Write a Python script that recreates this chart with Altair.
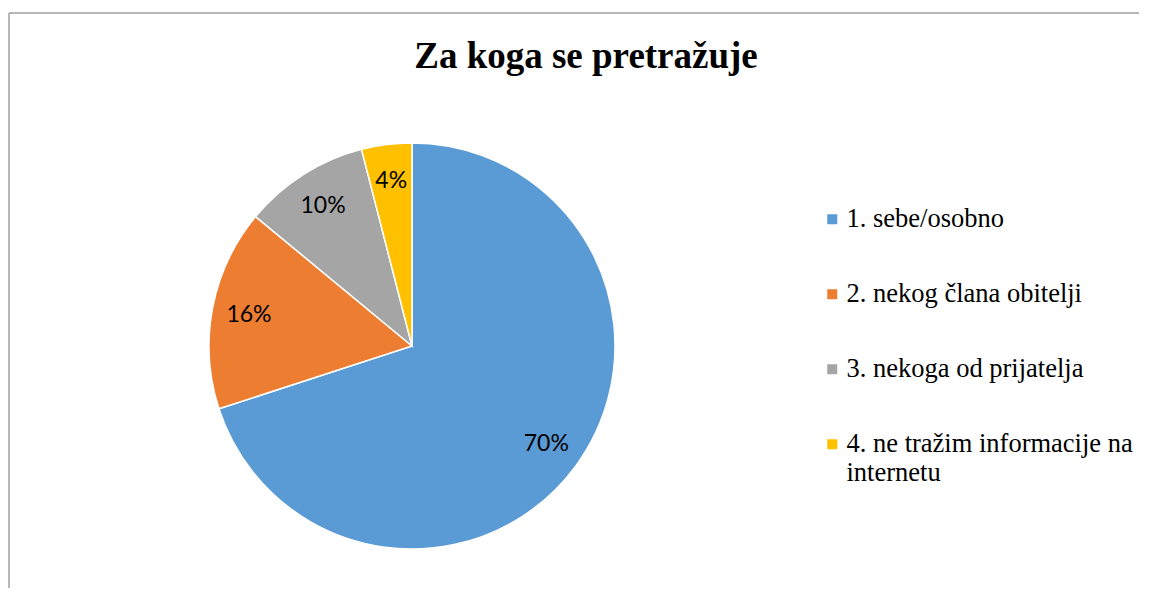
import altair as alt
import pandas as pd

categories = [
    "1. sebe/osobno",
    "2. nekog člana obitelji",
    "3. nekoga od prijatelja",
    "4. ne tražim informacije na internetu",
]
values = [70, 16, 10, 4]
colors = ["#5B9BD5", "#ED7D31", "#A5A5A5", "#FFC000"]
title_text = "Za koga se pretražuje"

df = pd.DataFrame({"cat": categories, "value": values, "idx": list(range(len(categories)))})

W, H = 1130, 575
CX, CY, R = 403, 333, 203

base = alt.Chart(df).encode(
    theta=alt.Theta("value:Q", stack=True),
    order=alt.Order("idx:Q"),
)

pie = base.mark_arc(outerRadius=R, stroke="white", strokeWidth=1.5).encode(
    x=alt.value(CX),
    y=alt.value(CY),
    color=alt.Color(
        "cat:N",
        scale=alt.Scale(domain=categories, range=colors),
        sort=categories,
        legend=alt.Legend(
            title=None,
            orient="none",
            legendX=810,
            legendY=193,
            symbolType="square",
            symbolSize=100,
            symbolStrokeWidth=0,
            labelFont="Liberation Serif",
            labelFontSize=26.5,
            labelColor="#000000",
            labelOffset=1,
            labelLimit=400,
            rowPadding=48,
            padding=0,
            labelExpr="datum.label == '4. ne tražim informacije na internetu' ? ['4. ne tražim informacije na', 'internetu'] : datum.label",
        ),
    ),
)

labels = base.mark_text(radius=166, font="Lato", fontSize=23, color="#000000").transform_calculate(
    lbl="datum.value + '%'"
).encode(
    x=alt.value(CX),
    y=alt.value(CY),
    text="lbl:N",
)

title = alt.Chart(pd.DataFrame({"t": [title_text]})).mark_text(
    font="Liberation Serif", fontSize=37, fontWeight="bold", color="#000000",
    align="center", baseline="alphabetic",
).encode(x=alt.value(577), y=alt.value(55), text="t:N")

frame_top = alt.Chart(pd.DataFrame({"a": [0]})).mark_rule(color="#A0A0A0", strokeWidth=1.5).encode(
    x=alt.value(0), x2=alt.value(W), y=alt.value(0)
)
frame_left = alt.Chart(pd.DataFrame({"a": [0]})).mark_rule(color="#A0A0A0", strokeWidth=1.5).encode(
    x=alt.value(0), y=alt.value(0), y2=alt.value(H)
)

chart = alt.layer(frame_top, frame_left, pie, labels, title).properties(
    width=W, height=H, background="white",
    padding={"left": 0, "top": 4, "right": 0, "bottom": 0},
).configure_view(stroke="transparent", strokeWidth=0).configure_legend(
    labelFont="Liberation Serif", labelFontSize=26.5, labelColor="#000000"
)

chart.save("out.html", embed_options={"renderer": "svg", "actions": False})
